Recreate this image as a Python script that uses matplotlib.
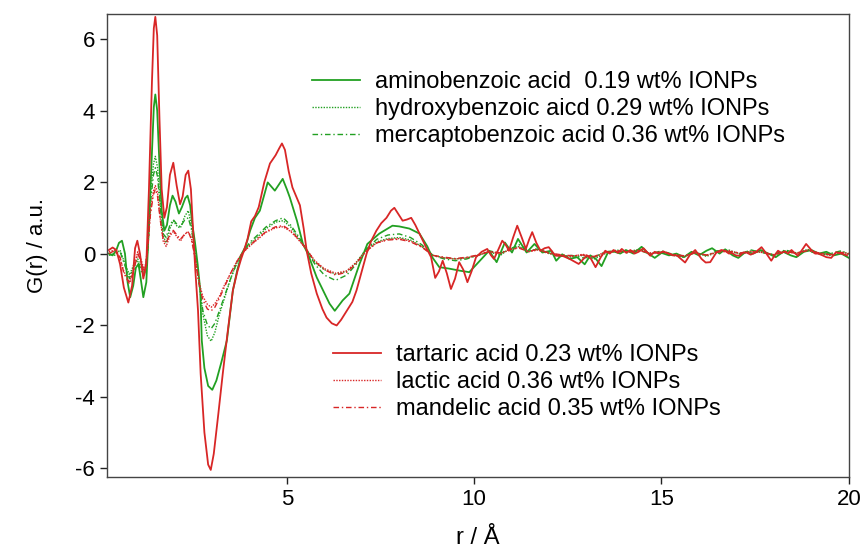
import numpy as np
import matplotlib
matplotlib.use("Agg")
import matplotlib.pyplot as plt

plt.rcParams['font.family'] = ['Liberation Sans', 'DejaVu Sans']
plt.rcParams['axes.unicode_minus'] = False

# values: r / Å and G(r) / a.u.
r_tartaric = [0.25, 0.35, 0.45, 0.55, 0.65, 0.77, 0.87, 0.95, 1.01, 1.08, 1.17, 1.25, 1.32, 1.40, 1.45, 1.49,
              1.54, 1.60, 1.66, 1.73, 1.80, 1.88, 1.97, 2.06, 2.15, 2.22, 2.30, 2.37, 2.44, 2.50, 2.56, 2.63,
              2.70, 2.80, 2.90, 2.97, 3.05, 3.17, 3.29, 3.42, 3.56, 3.68, 3.78, 3.83, 3.95, 4.05, 4.15, 4.25,
              4.40, 4.55, 4.70, 4.80, 4.87, 4.95, 5.05, 5.15, 5.25, 5.35, 5.45, 5.53, 5.65, 5.80, 5.95, 6.06,
              6.20, 6.33, 6.45, 6.60, 6.75, 6.86, 7.00, 7.13, 7.25, 7.39, 7.52, 7.66, 7.78, 7.87, 7.98, 8.09,
              8.20, 8.32, 8.43, 8.54, 8.72, 8.85, 8.96, 9.06, 9.16, 9.27, 9.38, 9.49, 9.60, 9.71, 9.82, 9.93,
              10.05, 10.20, 10.35, 10.45, 10.53, 10.64, 10.75, 10.84, 10.93, 11.04, 11.15, 11.27, 11.38, 11.47,
              11.55, 11.66, 11.77, 11.88, 11.99, 12.17, 12.35, 12.55, 12.79, 13.01, 13.12, 13.24, 13.38, 13.50,
              13.62, 13.72, 13.84, 13.94, 14.06, 14.17, 14.28, 14.39, 14.52, 14.70, 14.82, 14.92, 15.05, 15.19,
              15.30, 15.41, 15.52, 15.63, 15.75, 15.90, 16.07, 16.18, 16.30, 16.47, 16.60, 16.69, 16.80, 16.87,
              16.98, 17.09, 17.18, 17.27, 17.38, 17.49, 17.58, 17.67, 17.80, 17.93, 18.02, 18.11, 18.20, 18.29,
              18.38, 18.47, 18.55, 18.64, 18.75, 18.86, 19.00, 19.10, 19.18, 19.30, 19.40, 19.53, 19.66, 19.80,
              19.95]
g_tartaric = [0.10, 0.17, 0.10, -0.30, -0.95, -1.37, -0.90, 0.15, 0.36, 0.00, -0.70, -0.30, 1.80, 4.80, 6.30, 6.62,
              6.10, 3.80, 1.80, 1.00, 1.30, 2.20, 2.54, 1.90, 1.38, 1.60, 2.20, 2.32, 1.80, 0.60, -0.50, -1.60,
              -3.36, -5.00, -5.90, -6.05, -5.60, -4.50, -3.36, -2.20, -1.03, -0.50, -0.15, 0.00, 0.40, 0.90, 1.05, 1.30,
              2.00, 2.52, 2.75, 2.95, 3.08, 2.90, 2.30, 1.85, 1.60, 1.35, 0.70, 0.08, -0.55, -1.12, -1.55, -1.79,
              -1.95, -2.01, -1.85, -1.60, -1.35, -1.03, -0.50, 0.00, 0.35, 0.64, 0.85, 1.00, 1.20, 1.28, 1.10, 0.92,
              0.95, 1.00, 0.80, 0.56, 0.17, -0.10, -0.68, -0.50, -0.20, -0.55, -0.99, -0.70, -0.24, -0.45, -0.80, -0.50,
              -0.10, 0.05, 0.13, -0.05, -0.15, 0.10, 0.36, 0.25, 0.08, 0.45, 0.78, 0.45, 0.13, 0.40,
              0.60, 0.30, 0.08, 0.15, 0.18, -0.06, -0.06, -0.15, -0.29, -0.05, -0.15, -0.38, -0.10, 0.08,
              0.00, 0.10, 0.02, 0.13, 0.02, 0.10, 0.00, 0.05, 0.15, -0.06, 0.05, 0.00, 0.06, 0.00,
              -0.05, -0.05, -0.15, -0.25, -0.05, 0.10, -0.15, -0.25, -0.24, 0.04, 0.10, 0.08, 0.00, 0.02,
              -0.05, -0.06, 0.03, 0.03, -0.03, 0.02, 0.10, 0.18, 0.00, -0.20, -0.05, 0.08, 0.02, 0.06,
              0.00, 0.10, 0.02, -0.06, 0.10, 0.27, 0.10, 0.00, 0.00, -0.05, -0.10, -0.12, 0.04, 0.00,
              -0.05]

r_amino = [0.25, 0.35, 0.45, 0.52, 0.60, 0.68, 0.75, 0.82, 0.90, 0.97, 1.04, 1.10, 1.17, 1.25, 1.32, 1.40,
           1.45, 1.49, 1.54, 1.60, 1.66, 1.73, 1.80, 1.88, 1.95, 2.03, 2.12, 2.20, 2.29, 2.35, 2.42, 2.48,
           2.55, 2.62, 2.69, 2.73, 2.80, 2.90, 3.01, 3.12, 3.25, 3.40, 3.56, 3.68, 3.80, 3.90, 4.02, 4.15,
           4.28, 4.49, 4.68, 4.80, 4.89, 5.00, 5.08, 5.27, 5.43, 5.56, 5.80, 6.01, 6.14, 6.28, 6.49, 6.67,
           6.94, 7.15, 7.47, 7.82, 8.00, 8.27, 8.54, 8.75, 8.88, 9.07, 9.33, 9.63, 9.87, 10.03, 10.20, 10.40,
           10.60, 10.82, 11.01, 11.17, 11.40, 11.61, 11.82, 12.06, 12.19, 12.35, 12.55, 12.75, 12.95, 13.10,
           13.25, 13.40, 13.58, 13.75, 13.90, 14.05, 14.25, 14.47, 14.65, 14.82, 15.00, 15.20, 15.40, 15.60,
           15.80, 16.00, 16.20, 16.35, 16.55, 16.70, 16.90, 17.05, 17.25, 17.45, 17.65, 17.85, 18.05, 18.25,
           18.45, 18.60, 18.80, 19.00, 19.20, 19.40, 19.60, 19.80, 20.00]
g_amino = [0.00, -0.05, 0.10, 0.30, 0.36, 0.00, -0.80, -1.22, -0.90, -0.40, -0.29, -0.70, -1.22, -0.80, 0.80, 2.80,
           4.10, 4.45, 4.00, 2.50, 1.20, 0.64, 0.80, 1.35, 1.62, 1.45, 1.12, 1.30, 1.55, 1.62, 1.35, 0.80,
           0.30, -0.30, -1.03, -2.43, -3.20, -3.70, -3.81, -3.55, -3.05, -2.43, -1.03, -0.45, 0.00, 0.20, 0.64, 1.00,
           1.20, 1.99, 1.76, 1.95, 2.09, 1.80, 1.57, 0.92, 0.27, 0.00, -0.67, -1.12, -1.40, -1.60, -1.31, -1.12,
           -0.29, 0.27, 0.56, 0.78, 0.76, 0.70, 0.56, 0.20, -0.10, -0.38, -0.42, -0.48, -0.52, -0.34, -0.15, 0.08,
           -0.24, 0.31, 0.03, 0.41, 0.03, 0.27, 0.03, 0.08, -0.20, -0.02, -0.15, -0.10, -0.30, -0.05,
           -0.15, -0.35, 0.05, 0.05, 0.00, 0.10, 0.00, 0.19, 0.00, -0.12, 0.02, -0.05, 0.00, -0.10,
           0.05, -0.05, 0.08, 0.15, 0.00, 0.12, -0.05, -0.12, 0.05, 0.00, 0.10, 0.00, -0.10, 0.05,
           -0.05, -0.10, 0.05, 0.10, 0.00, 0.05, -0.05, 0.00, -0.12]

r_minor = [0.25, 0.40, 0.55, 0.65, 0.80, 0.92, 1.02, 1.12, 1.20, 1.28, 1.36, 1.44, 1.49, 1.55, 1.62, 1.70,
           1.78, 1.88, 1.97, 2.08, 2.16, 2.28, 2.37, 2.45, 2.52, 2.60, 2.68, 2.76, 2.88, 2.98, 3.08, 3.20,
           3.35, 3.50, 3.65, 3.80, 4.00, 4.20, 4.45, 4.70, 4.90, 5.10, 5.30, 5.50, 5.75, 6.00, 6.30, 6.60,
           6.85, 7.10, 7.40, 7.70, 8.00, 8.30, 8.60, 8.90, 9.20, 9.50, 9.80, 10.10, 10.40, 10.70, 10.95, 11.20,
           11.45, 11.70, 12.00, 12.30, 12.60, 12.90, 13.20, 13.50, 13.80, 14.10, 14.40, 14.70, 15.00, 15.30,
           15.60, 15.90, 16.20, 16.50, 16.80, 17.10, 17.40, 17.70, 18.00, 18.30, 18.60, 18.90, 19.20, 19.50,
           19.80, 20.00]
g_hydroxy = [0.00, -0.05, 0.10, -0.20, -0.60, -0.30, -0.15, -0.40, -0.55, 0.00, 1.60, 2.50, 2.72, 2.40, 1.40, 0.50,
             0.30, 0.70, 0.92, 0.75, 0.72, 1.05, 1.20, 0.80, 0.30, -0.40, -1.00, -1.70, -2.30, -2.45, -2.20, -1.70,
             -1.20, -0.70, -0.30, 0.00, 0.25, 0.45, 0.70, 0.88, 0.92, 0.75, 0.45, 0.15, -0.25, -0.45, -0.57, -0.50,
             -0.25, 0.10, 0.33, 0.42, 0.45, 0.38, 0.20, -0.05, -0.12, -0.15, -0.12, -0.05, 0.05, -0.05, 0.15, 0.20,
             0.05, 0.15, 0.00, -0.05, -0.10, -0.05, -0.15, 0.00, 0.10, 0.05, 0.12, 0.00, 0.05, -0.05,
             -0.10, 0.05, -0.08, 0.05, 0.10, -0.02, 0.08, 0.05, -0.05, 0.08, 0.00, 0.12, 0.00, -0.05,
             0.05, 0.00]
g_mercapto = [-0.05, 0.00, 0.05, -0.25, -0.70, -0.35, -0.20, -0.50, -0.60, 0.00, 1.40, 2.20, 2.40, 2.15, 1.30, 0.55,
              0.45, 0.80, 0.95, 0.80, 0.75, 0.95, 1.00, 0.70, 0.25, -0.40, -1.00, -1.60, -2.00, -2.10, -1.95, -1.60,
              -1.15, -0.70, -0.30, 0.00, 0.30, 0.50, 0.75, 0.92, 1.00, 0.80, 0.50, 0.15, -0.30, -0.60, -0.75, -0.60,
              -0.30, 0.10, 0.40, 0.52, 0.55, 0.45, 0.25, -0.05, -0.15, -0.20, -0.15, -0.05, 0.08, 0.00, 0.12, 0.25,
              0.08, 0.12, 0.02, -0.08, -0.05, -0.12, -0.10, 0.05, 0.08, 0.02, 0.10, -0.02, 0.08, -0.02,
              -0.08, 0.02, -0.05, 0.08, 0.05, 0.00, 0.10, 0.02, -0.02, 0.10, 0.02, 0.08, -0.02, 0.00,
              0.08, -0.02]
g_lactic = [0.05, 0.10, -0.15, -0.50, -0.80, -0.40, 0.05, -0.20, -0.50, 0.10, 1.20, 1.75, 1.90, 1.70, 1.00, 0.35,
            0.20, 0.50, 0.62, 0.45, 0.35, 0.55, 0.60, 0.45, 0.10, -0.40, -0.90, -1.20, -1.42, -1.50, -1.40, -1.20,
            -0.85, -0.55, -0.25, 0.00, 0.20, 0.38, 0.60, 0.72, 0.75, 0.62, 0.40, 0.15, -0.20, -0.42, -0.55, -0.48,
            -0.25, 0.05, 0.30, 0.40, 0.42, 0.35, 0.20, -0.05, -0.12, -0.15, -0.12, -0.05, 0.05, 0.00, 0.10, 0.18,
            0.05, 0.10, 0.00, -0.05, -0.08, -0.02, -0.10, 0.02, 0.08, 0.05, 0.10, 0.00, 0.05, -0.03,
            -0.08, 0.03, -0.05, 0.05, 0.08, 0.00, 0.06, 0.04, -0.04, 0.06, 0.00, 0.10, 0.02, -0.04,
            0.04, 0.00]
g_mandelic = [0.00, 0.08, -0.10, -0.55, -0.85, -0.45, 0.00, -0.25, -0.55, 0.05, 1.10, 1.65, 1.80, 1.60, 0.95, 0.40,
              0.30, 0.55, 0.65, 0.50, 0.40, 0.55, 0.62, 0.40, 0.05, -0.45, -0.95, -1.30, -1.55, -1.60, -1.50, -1.25,
              -0.90, -0.55, -0.25, 0.00, 0.22, 0.40, 0.62, 0.75, 0.78, 0.65, 0.42, 0.15, -0.22, -0.45, -0.60, -0.52,
              -0.28, 0.05, 0.30, 0.38, 0.40, 0.33, 0.18, -0.05, -0.10, -0.14, -0.10, -0.04, 0.06, 0.02, 0.12, 0.15,
              0.06, 0.12, 0.02, -0.03, -0.06, -0.04, -0.08, 0.04, 0.06, 0.04, 0.08, 0.02, 0.04, -0.02,
              -0.06, 0.02, -0.04, 0.04, 0.06, 0.02, 0.05, 0.03, -0.03, 0.05, 0.02, 0.08, 0.02, -0.03,
              0.03, -0.02]

labels_green = ['aminobenzoic acid  0.19 wt% IONPs',
                'hydroxybenzoic aicd 0.29 wt% IONPs',
                'mercaptobenzoic acid 0.36 wt% IONPs']
labels_red = ['tartaric acid 0.23 wt% IONPs',
              'lactic acid 0.36 wt% IONPs',
              'mandelic acid 0.35 wt% IONPs']

green = '#22a022'
red = '#d82626'
dotted = (0, (1, 1))
dashdot = (0, (4, 2, 1, 2))

fig = plt.figure(figsize=(8.6, 5.49), dpi=100)
ax = fig.add_axes([0.1244, 0.131, 0.8626, 0.8435])

lg = []
lg.append(ax.plot(r_amino, g_amino, color=green, lw=1.3, ls='-')[0])
lg.append(ax.plot(r_minor, g_hydroxy, color=green, lw=1.0, ls=dotted)[0])
lg.append(ax.plot(r_minor, g_mercapto, color=green, lw=1.0, ls=dashdot)[0])
lr = []
lr.append(ax.plot(r_tartaric, g_tartaric, color=red, lw=1.3, ls='-')[0])
lr.append(ax.plot(r_minor, g_lactic, color=red, lw=1.0, ls=dotted)[0])
lr.append(ax.plot(r_minor, g_mandelic, color=red, lw=1.0, ls=dashdot)[0])

ax.set_xlim(0.2, 20)
ax.set_ylim(-6.25, 6.7)
ax.set_xticks([5, 10, 15, 20])
ax.set_yticks([-6, -4, -2, 0, 2, 4, 6])
ax.tick_params(direction='out', length=5, width=1, labelsize=16, color='#222222')
for s in ax.spines.values():
    s.set_color('#444444')
    s.set_linewidth(1.0)

ax.set_xlabel('r / Å', fontsize=17, labelpad=12)
ax.set_ylabel('G(r) / a.u.', fontsize=16, labelpad=20)

leg_kw = dict(loc='upper left', frameon=False, fontsize=17, bbox_transform=fig.transFigure,
              handlelength=2.03, handletextpad=0.64, labelspacing=0.22, borderpad=0, borderaxespad=0)
leg1 = ax.legend(lg, labels_green, bbox_to_anchor=(312 / 860, 1 - 71 / 549), **leg_kw)
ax.add_artist(leg1)
ax.legend(lr, labels_red, bbox_to_anchor=(333 / 860, 1 - 344 / 549), **leg_kw)

fig.savefig('out.png', dpi=100)
